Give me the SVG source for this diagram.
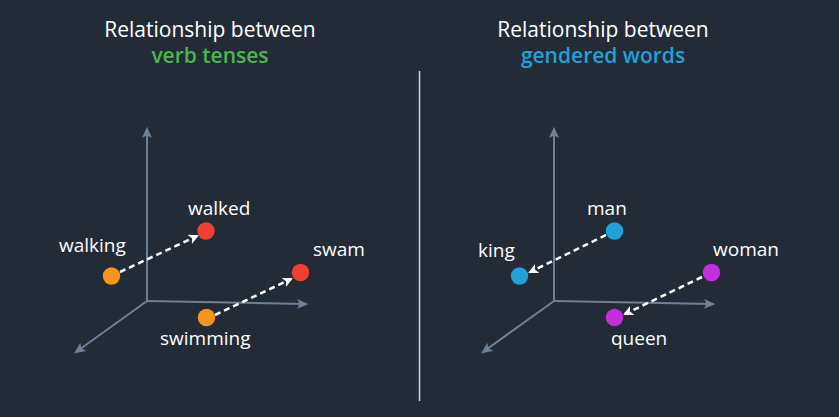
<svg xmlns="http://www.w3.org/2000/svg" width="839" height="417" viewBox="0 0 839 417">
<defs>
<marker id="axh" viewBox="0 0 10 10" refX="8" refY="5" markerWidth="11" markerHeight="11" orient="auto" markerUnits="userSpaceOnUse">
<path d="M0,0.5 L10,5 L0,9.5 L2,5 Z" fill="#6f8194"/>
</marker>
<marker id="dh" viewBox="0 0 10 10" refX="8" refY="5" markerWidth="10" markerHeight="10" orient="auto" markerUnits="userSpaceOnUse">
<path d="M0,0 L10,5 L0,10 L2.5,5 Z" fill="#ffffff"/>
</marker>
<style>
.t{font-family:"Open Sans","Noto Sans",sans-serif;fill:#ffffff;}
.title{font-size:21px;text-anchor:middle;}
.sub{font-weight:600;}
.lbl{font-size:19px;}
.ax{stroke:#6f8194;stroke-width:2;fill:none;marker-end:url(#axh);}
.da{stroke:#ffffff;stroke-width:2.5;stroke-dasharray:6,4;fill:none;marker-end:url(#dh);}
</style>
</defs>
<rect width="839" height="417" fill="#232b36"/>
<g id="titles">
<text class="t title" x="210" y="37">Relationship between</text>
<text class="t title sub" x="210" y="63" style="fill:#4bb74a">verb tenses</text>
<text class="t title" x="603" y="37">Relationship between</text>
<text class="t title sub" x="603" y="63" style="fill:#1ea2d8">gendered words</text>
</g>
<line x1="419.5" y1="71" x2="419.5" y2="401" stroke="#c5d2df" stroke-width="1.5"/>
<g id="axes">
<path class="ax" d="M147,301 L147,129"/>
<path class="ax" d="M147,301 L306,304"/>
<path class="ax" d="M147,301 L76,352"/>
<path class="ax" d="M554,301 L554,129"/>
<path class="ax" d="M554,301 L713,304"/>
<path class="ax" d="M554,301 L483,352"/>
</g>
<g id="connectors">
<path class="da" d="M120,272 L197,236"/>
<path class="da" d="M215,315 L291,279"/>
<path class="da" d="M606,235 L530,272"/>
<path class="da" d="M702,277 L625,314"/>
</g>
<g id="walking"><circle cx="111.5" cy="276" r="8.7" fill="#f7941e"/><text class="t lbl" x="59" y="252">walking</text></g>
<g id="walked"><circle cx="206" cy="231" r="8.7" fill="#ee4130"/><text class="t lbl" x="188" y="215">walked</text></g>
<g id="swam"><circle cx="300.5" cy="272.5" r="8.7" fill="#ee4130"/><text class="t lbl" x="313" y="256">swam</text></g>
<g id="swimming"><circle cx="206.5" cy="317.5" r="8.7" fill="#f7941e"/><text class="t lbl" x="160" y="345">swimming</text></g>
<g id="man"><circle cx="614.5" cy="231" r="8.7" fill="#1ea2d8"/><text class="t lbl" x="587" y="215">man</text></g>
<g id="king"><circle cx="519.5" cy="276" r="8.7" fill="#1ea2d8"/><text class="t lbl" x="478" y="257">king</text></g>
<g id="woman"><circle cx="711.5" cy="272.5" r="8.7" fill="#c32fdc"/><text class="t lbl" x="713" y="256">woman</text></g>
<g id="queen"><circle cx="614.5" cy="317.5" r="8.7" fill="#c32fdc"/><text class="t lbl" x="611" y="345">queen</text></g>
</svg>
